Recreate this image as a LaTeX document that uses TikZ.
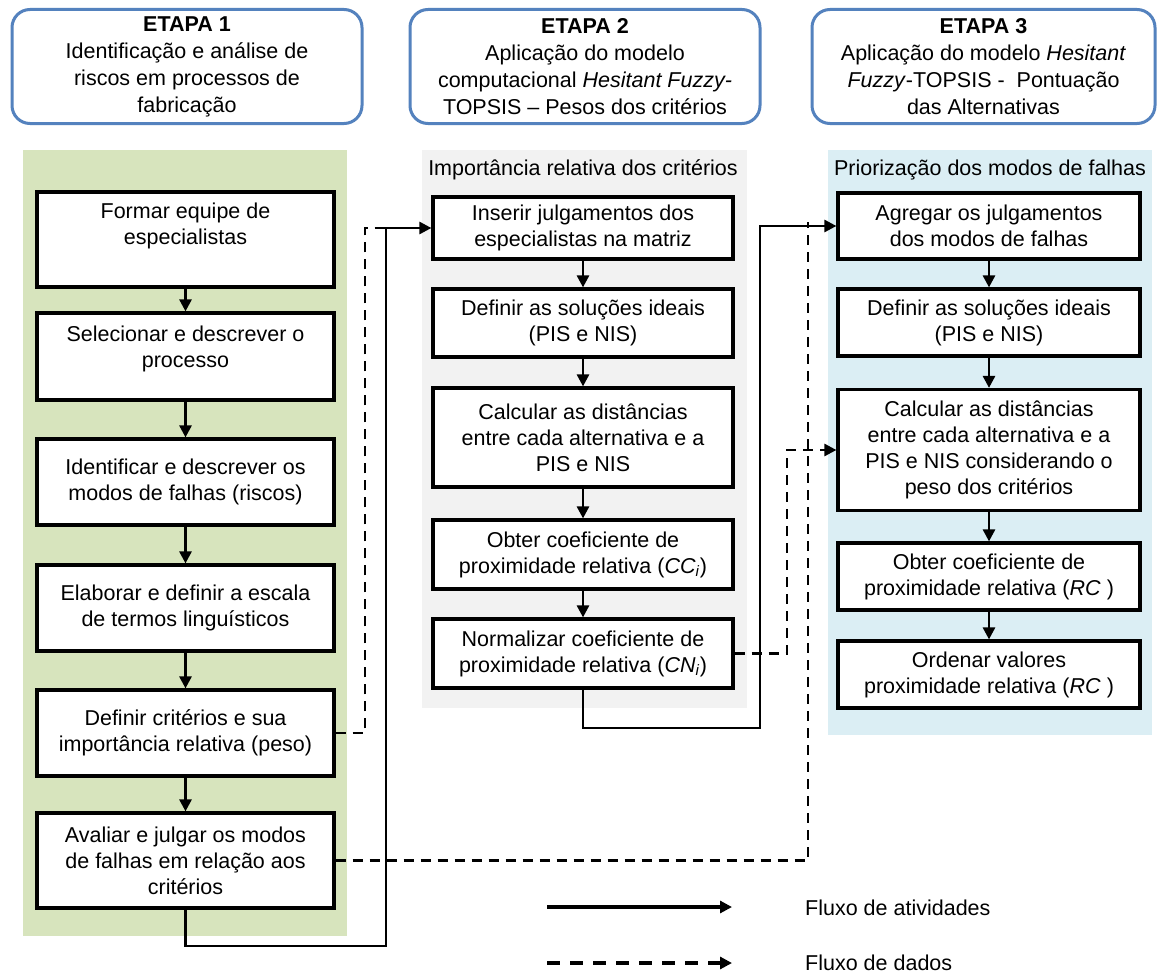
\documentclass[tikz,border=0pt]{standalone}
\usepackage{fontspec}
\setmainfont{Liberation Sans}
\usetikzlibrary{arrows.meta}
\definecolor{hdrblue}{RGB}{84,130,190}
\definecolor{bggreen}{RGB}{215,228,189}
\definecolor{bggray}{RGB}{242,242,242}
\definecolor{bgblue}{RGB}{219,238,244}
\begin{document}
\begin{tikzpicture}[x=1pt,y=-1pt,
  txt/.style={font=\fontsize{21.5}{26}\selectfont, align=center, inner sep=0pt},
  hdr/.style={draw=hdrblue, line width=3pt, rounded corners=18pt, fill=white,
     font=\fontsize{21.5}{27}\selectfont, align=center, inner sep=0pt, minimum height=114pt},
  stepbox/.style={draw, line width=3.2pt, fill=white, txt},
  c1box/.style={stepbox, minimum width=297pt},
  c2box/.style={stepbox, minimum width=300pt},
  c3box/.style={stepbox, minimum width=302pt},
  tip/.style={-{Triangle[length=12pt,width=12pt]}},
  flow/.style={line width=2.7pt, tip},
  datanotip/.style={line width=2.7pt, dash pattern=on 10pt off 7pt},
  data/.style={datanotip, tip},
  ]
\useasboundingbox (0,0) rectangle (1160,974);
\fill[white] (0,0) rectangle (1160,974);

% backgrounds
\fill[bggreen] (23,150) rectangle (347,936);
\fill[bggray] (422,150) rectangle (747,708);
\fill[bgblue] (828,150) rectangle (1152,735);

% headers
\node[hdr, minimum width=350pt] (h1) at (187,66.5) {\textbf{ETAPA 1}\\Identificação e análise de\\riscos em processos de\\fabricação};
\node[hdr, minimum width=350pt] (h2) at (585,66.5) {\textbf{ETAPA 2}\\Aplicação do modelo\\computacional \textit{Hesitant Fuzzy-}\\TOPSIS – Pesos dos critérios};
\node[hdr, minimum width=343pt] (h3) at (983.5,66.5) {\textbf{ETAPA 3}\\Aplicação do modelo \textit{Hesitant}\\\textit{Fuzzy}-TOPSIS -\ \ Pontuação\\das Alternativas};

% section titles
\node[txt] (t2) at (583,170) {Importância relativa dos critérios};
\node[txt] (t3) at (990,170) {Priorização dos modos de falhas};

% column 1
\node[c1box, minimum height=95pt] (b1) at (185.5,239.5) {Formar equipe de\\especialistas\\[5pt]};
\node[c1box, minimum height=87pt] (b2) at (185.5,356.5) {Selecionar e descrever o\\processo\\[-6pt]};
\node[c1box, minimum height=86pt] (b3) at (185.5,482) {Identificar e descrever os\\modos de falhas (riscos)};
\node[c1box, minimum height=86pt] (b4) at (185.5,608) {Elaborar e definir a escala\\de termos linguísticos};
\node[c1box, minimum height=86pt] (b5) at (185.5,733) {Definir critérios e sua\\importância relativa (peso)};
\node[c1box, minimum height=95pt] (b6) at (185.5,860.5) {Avaliar e julgar os modos\\de falhas em relação aos\\critérios};

% column 2
\node[c2box, minimum height=62pt] (c1) at (583,228) {Inserir julgamentos dos\\especialistas na matriz};
\node[c2box, minimum height=68pt] (c2) at (583,323) {Definir as soluções ideais\\(PIS e NIS)};
\node[c2box, minimum height=99pt] (c3) at (583,437.5) {Calcular as distâncias\\entre cada alternativa e a\\PIS e NIS};
\node[c2box, minimum height=69pt] (c4) at (583,554.5) {Obter coeficiente de\\proximidade relativa (\textit{CC}\textsubscript{\textit{i}})};
\node[c2box, minimum height=69pt] (c5) at (583,653.5) {Normalizar coeficiente de\\proximidade relativa (\textit{CN}\textsubscript{\textit{i}})};

% column 3
\node[c3box, minimum height=66pt] (d1) at (989,226) {Agregar os julgamentos\\dos modos de falhas};
\node[c3box, minimum height=67pt] (d2) at (989,322.5) {Definir as soluções ideais\\(PIS e NIS)};
\node[c3box, minimum height=121pt] (d3) at (989,450) {Calcular as distâncias\\entre cada alternativa e a\\PIS e NIS considerando o\\peso dos critérios};
\node[c3box, minimum height=67pt] (d4) at (989,576.5) {Obter coeficiente de\\proximidade relativa (\textit{RC} )};
\node[c3box, minimum height=67pt] (d5) at (989,674.5) {Ordenar valores\\proximidade relativa (\textit{RC} )};

% vertical flows
\draw[flow] (b1) -- (b2);
\draw[flow] (b2) -- (b3);
\draw[flow] (b3) -- (b4);
\draw[flow] (b4) -- (b5);
\draw[flow] (b5) -- (b6);
\draw[flow] (c1) -- (c2);
\draw[flow] (c2) -- (c3);
\draw[flow] (c3) -- (c4);
\draw[flow] (c4) -- (c5);
\draw[flow] (d1) -- (d2);
\draw[flow] (d2) -- (d3);
\draw[flow] (d3) -- (d4);
\draw[flow] (d4) -- (d5);

% cross connectors
\coordinate (j1) at (386,946);
\coordinate (k1) at (365,228);
\coordinate (j2) at (760,728);
\coordinate (k2) at (787,450);
\coordinate (k3) at (808,222);

\draw[datanotip] (b5.east) -| (k1) -- (j1 |- k1);
\draw[datanotip] (b6.east) -| (k3);
\draw[data] (c5.east) -| (k2) -- (d3.west);
\draw[flow] (b6.south) |- (j1) |- (c1.west);
\draw[flow] (c5.south) |- (j2) |- (d1.west);

% legend
\coordinate (la1) at (547,907);
\coordinate (la2) at (732,907);
\coordinate (lb1) at (547,963);
\coordinate (lb2) at (732,963);
\draw[line width=3.8pt, tip] (la1) -- (la2);
\draw[line width=3.8pt, dash pattern=on 13pt off 10pt, tip] (lb1) -- (lb2);
\node[txt, anchor=west] (l1) at (805,908) {Fluxo de atividades};
\node[txt, anchor=west] (l2) at (805,963) {Fluxo de dados};
\end{tikzpicture}
\end{document}
